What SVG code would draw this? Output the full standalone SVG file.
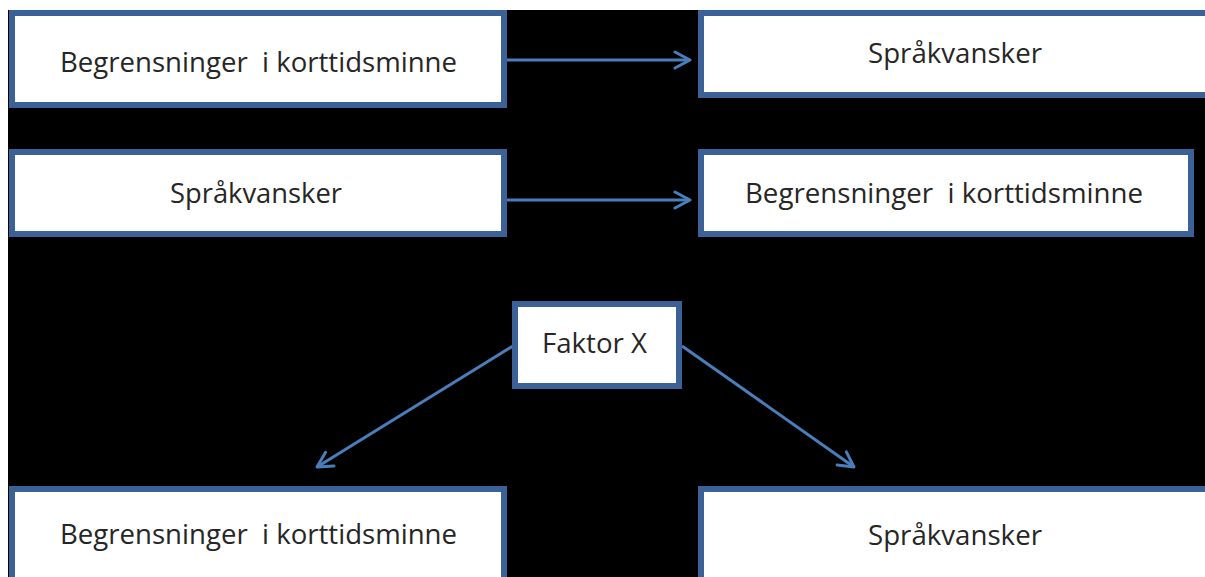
<svg xmlns="http://www.w3.org/2000/svg" width="1205" height="577" viewBox="0 0 1205 577">
  <style>
    .box { fill: #ffffff; stroke: #3B6196; stroke-width: 6; }
    .lbl { font-family: "Open Sans", "Liberation Sans", sans-serif; font-size: 27px; fill: #262626; }
    .conn { stroke: #4A7EBB; stroke-width: 3; fill: none; marker-end: url(#arrow); }
  </style>
  <defs>
    <marker id="arrow" markerUnits="userSpaceOnUse" viewBox="0 0 20 20" markerWidth="20" markerHeight="20" refX="17" refY="10" orient="auto">
      <path d="M2,2 L17,10 L2,18" fill="none" stroke="#4A7EBB" stroke-width="3" stroke-linejoin="round" stroke-linecap="round"/>
    </marker>
  </defs>
  <rect x="0" y="0" width="1205" height="577" fill="#ffffff"/>
  <rect x="8" y="10" width="1197" height="567" fill="#000000"/>

  <g id="connectors">
    <line class="conn" x1="507" y1="60" x2="690" y2="60"/>
    <line class="conn" x1="507" y1="200" x2="690" y2="200"/>
    <line class="conn" x1="513" y1="346" x2="317" y2="467"/>
    <line class="conn" x1="682" y1="346" x2="854" y2="467"/>
  </g>

  <g id="n1">
    <rect class="box" x="12" y="13" width="492" height="92"/>
    <text class="lbl" x="60" y="72" textLength="397" lengthAdjust="spacingAndGlyphs" xml:space="preserve">Begrensninger  i korttidsminne</text>
  </g>
  <g id="n2">
    <rect class="box" x="701" y="13" width="520" height="82"/>
    <text class="lbl" x="868" y="63" textLength="174" lengthAdjust="spacingAndGlyphs">Språkvansker</text>
  </g>
  <g id="n3">
    <rect class="box" x="12" y="152" width="492" height="82"/>
    <text class="lbl" x="170" y="203" textLength="172" lengthAdjust="spacingAndGlyphs">Språkvansker</text>
  </g>
  <g id="n4">
    <rect class="box" x="701" y="152" width="490" height="82"/>
    <text class="lbl" x="745" y="203" textLength="398" lengthAdjust="spacingAndGlyphs" xml:space="preserve">Begrensninger  i korttidsminne</text>
  </g>
  <g id="n5">
    <rect class="box" x="515" y="304" width="164" height="82"/>
    <text class="lbl" x="542" y="353" textLength="105" lengthAdjust="spacingAndGlyphs">Faktor X</text>
  </g>
  <g id="n6">
    <rect class="box" x="12" y="489" width="492" height="120"/>
    <text class="lbl" x="60" y="544" textLength="397" lengthAdjust="spacingAndGlyphs" xml:space="preserve">Begrensninger  i korttidsminne</text>
  </g>
  <g id="n7">
    <rect class="box" x="701" y="489" width="520" height="120"/>
    <text class="lbl" x="868" y="545" textLength="174" lengthAdjust="spacingAndGlyphs">Språkvansker</text>
  </g>
</svg>
